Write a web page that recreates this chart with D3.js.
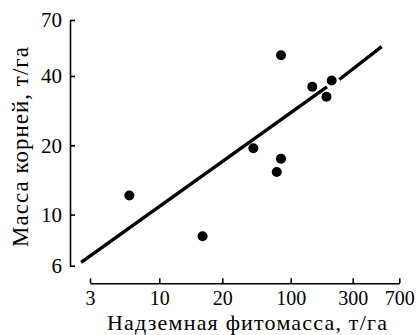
<!DOCTYPE html>
<html>
<head>
<meta charset="utf-8">
<script src="https://cdn.jsdelivr.net/npm/d3@7"></script>
<style>
  html, body { margin: 0; padding: 0; background: #fff; }
  svg { display: block; }
</style>
</head>
<body>
<svg id="chart" width="418" height="335"></svg>
<script>
// --- data ---
const xTicks = [3, 10, 20, 100, 300, 700];
const yTicks = [6, 10, 20, 40, 70];
const abovegroundMass = [5.94, 16.1, 41.5, 79.6, 79.6, 72, 146.6, 188.5, 206.6];
const rootMass        = [12.1, 8.05, 19.4, 49.2, 17.5, 15.3, 35.9, 32.5, 38.2];
// regression line, drawn as two pieces (gap near one point)
const fitX = [[2.57, 190], [236.6, 508]];
const fitY = [[6.21, 35.9], [38.6, 53.6]];
const xTitle = "Надземная фитомасса, т/га";
const yTitle = "Масса корней, т/га";

const FONT = "'Liberation Serif', 'Times New Roman', Times, 'DejaVu Serif', 'Noto Serif', serif";

const svg = d3.select("#chart");

// x axis: piecewise log scale matching the drawn tick spacing
const x = d3.scaleLog().domain(xTicks).range([90, 159.3, 222.3, 290.7, 352.7, 399.3]);
const y = d3.scaleLog().domain([6, 70]).range([265.7, 20]);

const xAxisY = 283.3;
const yAxisX = 70;

const gx = svg.append("g")
  .attr("transform", `translate(0,${xAxisY})`)
  .call(d3.axisBottom(x).tickValues(xTicks).tickFormat(d3.format("d"))
        .tickSizeInner(-5).tickSizeOuter(0).tickPadding(8));
gx.attr("font-family", null).attr("font-size", null);
gx.selectAll("path.domain").attr("stroke", "#000").attr("stroke-width", 1.6);
gx.selectAll(".tick line").attr("stroke", "#000").attr("stroke-width", 1.6);
gx.selectAll(".tick text").style("font-size", "20px").style("font-family", FONT).attr("fill", "#000");

const gy = svg.append("g")
  .attr("transform", `translate(${yAxisX},0)`)
  .call(d3.axisLeft(y).tickValues(yTicks).tickFormat(d3.format("d"))
        .tickSizeInner(-5).tickSizeOuter(0).tickPadding(8));
gy.attr("font-family", null).attr("font-size", null);
gy.selectAll("path.domain").attr("stroke", "#000").attr("stroke-width", 1.6);
gy.selectAll(".tick line").attr("stroke", "#000").attr("stroke-width", 1.6);
gy.selectAll(".tick text").style("font-size", "21px").style("font-family", FONT).attr("fill", "#000");

// regression line
const line = d3.line().x(d => x(d[0])).y(d => y(d[1]));
fitX.forEach((xs, i) => {
  const pts = xs.map((xv, j) => [xv, fitY[i][j]]);
  svg.append("path").attr("d", line(pts))
    .attr("fill", "none").attr("stroke", "#000").attr("stroke-width", 3.4)
    .attr("stroke-linecap", "butt");
});

// points
svg.append("g").selectAll("circle")
  .data(abovegroundMass.map((v, i) => [v, rootMass[i]]))
  .join("circle")
  .attr("cx", d => x(d[0])).attr("cy", d => y(d[1])).attr("r", 5)
  .attr("fill", "#000");

// titles
svg.append("text")
  .attr("x", 247).attr("y", 330)
  .attr("text-anchor", "middle")
  .attr("textLength", 280).attr("lengthAdjust", "spacing")
  .style("font-size", "22px").style("font-family", FONT)
  .text(xTitle);

svg.append("text")
  .attr("transform", "translate(28,147) rotate(-90)")
  .attr("text-anchor", "middle")
  .attr("textLength", 200).attr("lengthAdjust", "spacing")
  .style("font-size", "23px").style("font-family", FONT)
  .text(yTitle);
</script>
</body>
</html>
